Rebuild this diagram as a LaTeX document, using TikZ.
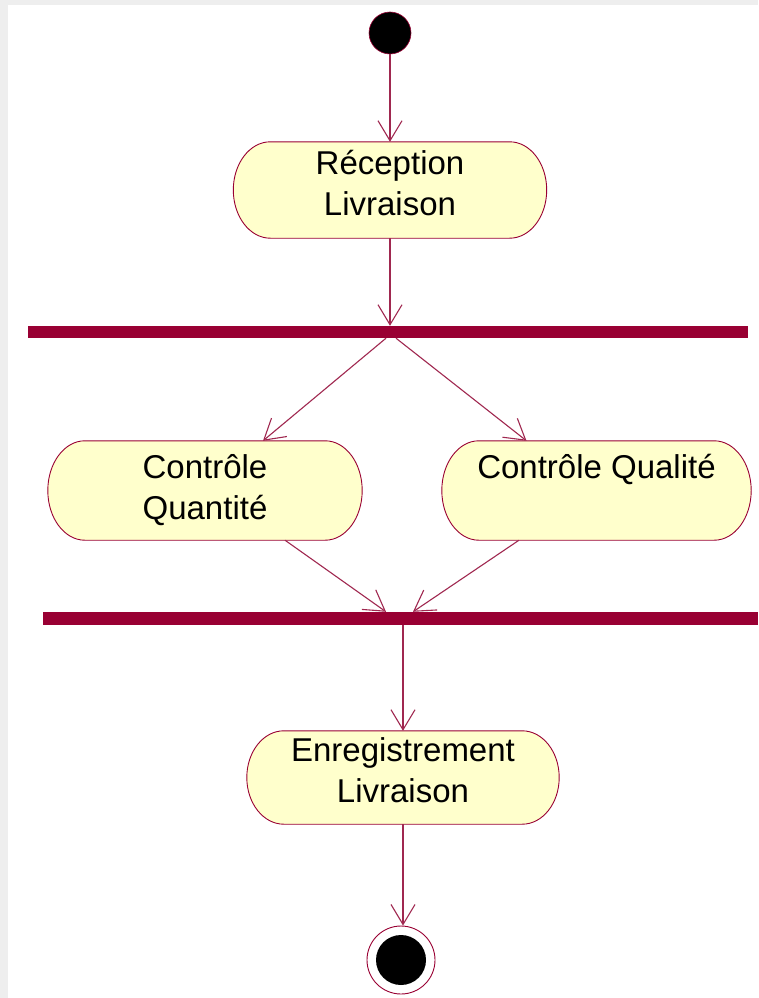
\documentclass[tikz,border=0pt]{standalone}
\usepackage{fontspec}
\setmainfont{Liberation Sans}
\usetikzlibrary{arrows.meta,calc,backgrounds}
\definecolor{umlred}{HTML}{990033}
\definecolor{flowred}{HTML}{A02850}
\definecolor{actfill}{HTML}{FFFFCC}
\definecolor{framegray}{HTML}{EEEEEE}
\newcommand\liftup[2]{\raisebox{#1}[\height][\depth]{\begin{tabular}{@{}c@{}}#2\end{tabular}}}
% outline of an activity: flat top/bottom, elliptical sides
\newcommand\actoutline[1]{%
  \begin{scope}[x=1pt,y=1pt]
  \filldraw[draw=umlred, line width=0.9pt, fill=actfill]
    let \p1=(#1.north west), \p2=(#1.south east), \n1={(\y1-\y2)/2} in
    ($(\x1,\y1)+(37pt,0)$) -- ($(\x2,\y1)+(-37pt,0)$)
    arc[start angle=90, end angle=-90, x radius=37pt, y radius=\n1]
    -- ($(\x1,\y2)+(37pt,0)$)
    arc[start angle=270, end angle=90, x radius=37pt, y radius=\n1] -- cycle;
  \end{scope}}
\begin{document}
\begin{tikzpicture}[x=1pt,y=-1pt,
  act/.style={rectangle, inner sep=0pt, font=\fontsize{33}{41}\selectfont},
  syncbar/.style={rectangle, fill=umlred, inner sep=0pt},
  flow/.style={draw=flowred, line width=1.1pt, -{Straight Barb[length=20pt,width=24pt,line width=1.1pt]}}]
\useasboundingbox (0,0) rectangle (758,998);

\node[circle, fill=black, draw=umlred, line width=0.6pt, minimum size=42pt, inner sep=0pt] (start) at (390,33) {};
\node[act, minimum width=313pt, minimum height=96pt] (rec) at (390,190) {\liftup{3pt}{Réception\\Livraison}};
\node[syncbar, minimum width=720pt, minimum height=12pt] (bar1) at (388,332) {};
\node[act, minimum width=314pt, minimum height=99pt] (qte) at (205,490.5) {\liftup{0pt}{Contrôle\\Quantité}};
\node[act, minimum width=309pt, minimum height=99pt] (qual) at (596.5,490.5) {\liftup{0pt}{Contrôle Qualité\\\phantom{Q}}};
\node[syncbar, minimum width=715pt, minimum height=13pt] (bar2) at (400.5,618.5) {};
\node[act, minimum width=312pt, minimum height=93pt] (enr) at (403,777.5) {\liftup{4pt}{Enregistrement\\Livraison}};
\node[circle, draw=umlred, line width=0.9pt, fill=white, minimum size=68pt, inner sep=0pt,
  path picture={\fill[black] (path picture bounding box.center) circle (25pt);}] (final) at (401,960) {};

\begin{scope}[on background layer]
  \fill[framegray] (0,0) rectangle (758,998);
  \fill[white] (8,5) rectangle (758,998);
  \actoutline{rec}
  \actoutline{qte}
  \actoutline{qual}
  \actoutline{enr}
\end{scope}

\draw[flow] (start) -- (rec);
\draw[flow] (rec.south) -- (rec.south |- bar1.north);
\draw[flow] ([xshift=-2pt]bar1.south) -- ([xshift=58pt]qte.north);
\draw[flow] ([xshift=8pt]bar1.south) -- ([xshift=-70pt]qual.north);
\draw[flow] ([xshift=80pt]qte.south) -- ([xshift=-14.5pt]bar2.north);
\draw[flow] ([xshift=-77.5pt]qual.south) -- ([xshift=12.5pt]bar2.north);
\draw[flow] (enr.north |- bar2.south) -- (enr.north);
\draw[flow] (enr.south) -- (enr.south |- final.north);
\end{tikzpicture}
\end{document}
